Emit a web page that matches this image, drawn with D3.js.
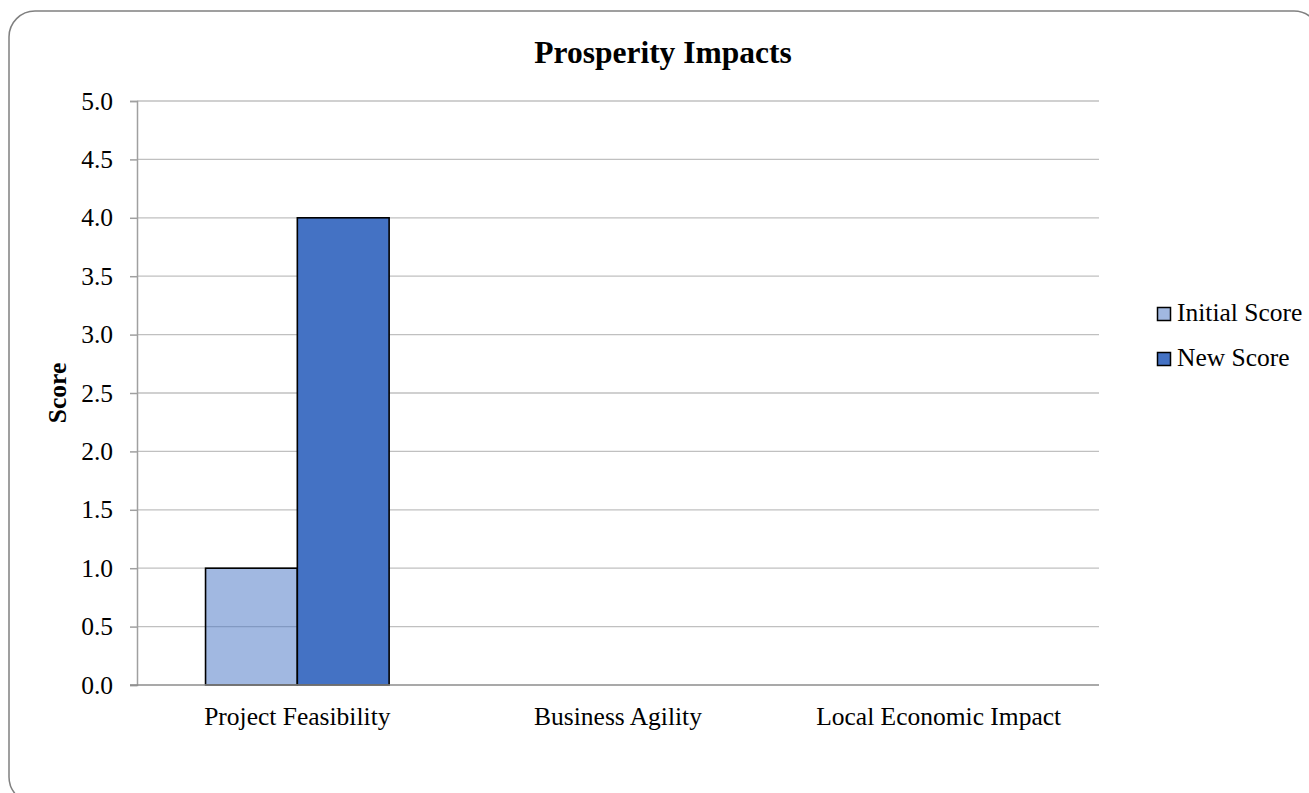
<!DOCTYPE html>
<html>
<head>
<meta charset="utf-8">
<script src="https://cdn.jsdelivr.net/npm/d3@7"></script>
<style>
  html, body { margin: 0; padding: 0; background: #fff; }
  svg { display: block; }
  text { font-family: "Liberation Serif", "Times New Roman", serif; fill: #000; }
</style>
</head>
<body>
<svg id="chart" width="1309" height="793"></svg>
<script>
const categories = ["Project Feasibility", "Business Agility", "Local Economic Impact"];
const seriesNames = ["Initial Score", "New Score"];
const initialScore = [1.0, null, null];
const newScore = [4.0, null, null];
const yTicks = [0, 0.5, 1, 1.5, 2, 2.5, 3, 3.5, 4, 4.5, 5];
const chartTitle = "Prosperity Impacts";
const yAxisTitle = "Score";

(function () {
const seriesValues = [initialScore, newScore];
const colors = ["#4472C4", "#4472C4"];
const opacities = [0.5, 1];

const svg = d3.select("#chart");
const pLeft = 137, pRight = 1099, pTop = 101, pBottom = 685;

// outer rounded border
svg.append("rect")
  .attr("x", 9).attr("y", 11)
  .attr("width", 1311).attr("height", 792)
  .attr("rx", 26).attr("ry", 26)
  .attr("fill", "#fff")
  .attr("stroke", "#808080")
  .attr("stroke-width", 1.5);

const x = d3.scaleBand().domain(categories).range([pLeft, pRight])
  .paddingInner(0.4275).paddingOuter(0.4275 / 2);
const xs = d3.scaleBand().domain(seriesNames).range([0, x.bandwidth()]).padding(0);
const y = d3.scaleLinear().domain([0, 5]).range([pBottom, pTop]);

// gridlines
svg.append("g").selectAll("line").data(yTicks.filter(d => d > 0)).join("line")
  .attr("x1", pLeft).attr("x2", pRight)
  .attr("y1", d => y(d)).attr("y2", d => y(d))
  .attr("stroke", "#c0c0c0").attr("stroke-width", 1.3);

// bars
seriesNames.forEach((s, si) => {
  svg.append("g").selectAll("rect")
    .data(categories.map((c, i) => ({ c, v: seriesValues[si][i] })).filter(d => d.v != null))
    .join("rect")
    .attr("x", d => x(d.c) + xs(s))
    .attr("y", d => y(d.v))
    .attr("width", xs.bandwidth())
    .attr("height", d => y(0) - y(d.v))
    .attr("fill", colors[si])
    .attr("fill-opacity", opacities[si])
    .attr("stroke", "#000")
    .attr("stroke-width", 1.6);
});

// y axis
const yAxis = d3.axisLeft(y).tickValues(yTicks).tickFormat(d3.format(".1f")).tickSize(7).tickPadding(17);
const gy = svg.append("g").attr("transform", `translate(${pLeft},0)`).call(yAxis);
gy.select(".domain").attr("stroke", "#a0a0a0").attr("stroke-width", 1.5);
gy.selectAll(".tick line").attr("stroke", "#a0a0a0").attr("stroke-width", 1.5);
gy.selectAll(".tick text").attr("font-size", 25.5).attr("font-family", "Liberation Serif").attr("fill", "#000");

// x axis
const xAxis = d3.axisBottom(x).tickSize(0).tickPadding(22);
const gx = svg.append("g").attr("transform", `translate(0,${pBottom})`).call(xAxis);
gx.select(".domain").remove();
gx.append("line").attr("x1", 130).attr("x2", pRight).attr("y1", 0).attr("y2", 0)
  .attr("stroke", "#8c8c8c").attr("stroke-width", 1.5);
gx.selectAll(".tick text").attr("font-size", 25.5).attr("font-family", "Liberation Serif").attr("fill", "#000");

// title
svg.append("text")
  .attr("x", 663).attr("y", 63)
  .attr("text-anchor", "middle")
  .attr("font-size", 31.5).attr("font-weight", "bold")
  .text(chartTitle);

// y axis title
svg.append("text")
  .attr("transform", `translate(66,${(pTop + pBottom) / 2}) rotate(-90)`)
  .attr("text-anchor", "middle")
  .attr("font-size", 25.5).attr("font-weight", "bold")
  .text(yAxisTitle);

// legend
const legend = svg.append("g").attr("transform", "translate(1157,307)");
seriesNames.forEach((s, i) => {
  const g = legend.append("g").attr("transform", `translate(0,${i * 45})`);
  g.append("rect").attr("x", 0.5).attr("y", 0.5).attr("width", 13).attr("height", 13)
    .attr("fill", colors[i]).attr("fill-opacity", opacities[i])
    .attr("stroke", "#000").attr("stroke-width", 1.5);
  g.append("text").attr("x", 20).attr("y", 13.5)
    .attr("font-size", 25.5).text(s);
});
})();
</script>
</body>
</html>
